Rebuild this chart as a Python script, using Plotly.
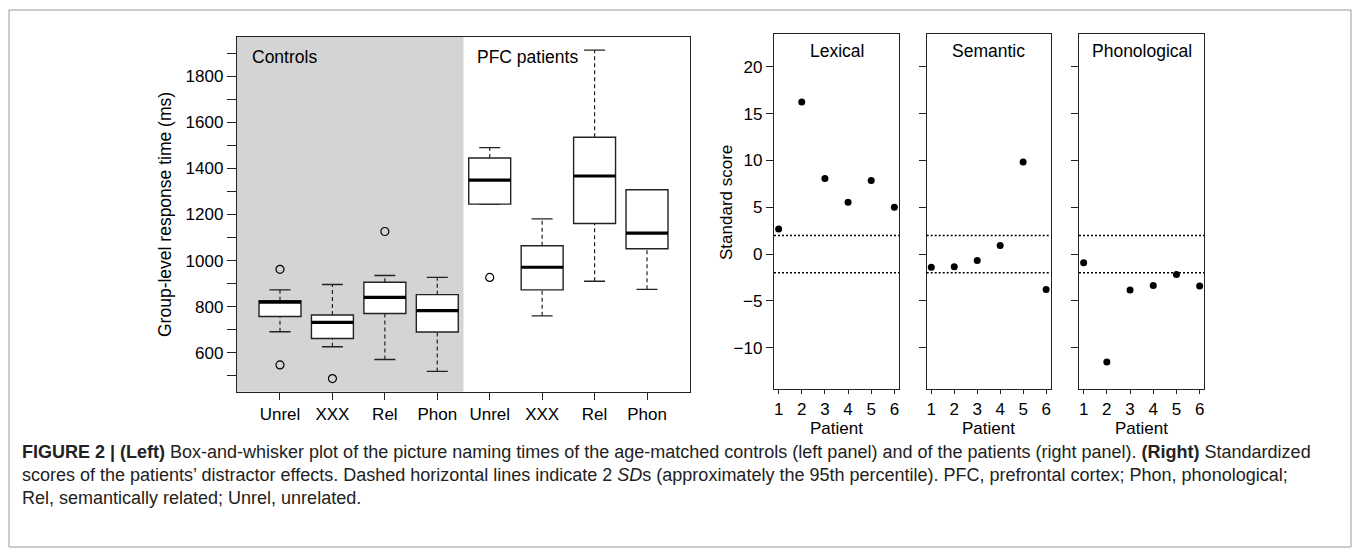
import plotly.graph_objects as go

# ---------------- data ----------------
groups = ["Unrel", "XXX", "Rel", "Phon", "Unrel", "XXX", "Rel", "Phon"]
lower_whisker = [691, 626, 571, 519, 1245, 760, 910, 875]
q1_vals = [757, 662, 770, 690, 1245, 873, 1161, 1051]
medians = [820, 732, 840, 783, 1349, 971, 1367, 1119]
q3_vals = [826, 764, 906, 852, 1445, 1064, 1535, 1307]
upper_whisker = [873, 896, 935, 927, 1490, 1181, 1913, 1307]
outlier_pos = [1, 1, 2, 3, 5]
outlier_vals = [962, 547, 488, 1126, 927]

patients = [1, 2, 3, 4, 5, 6]
lexical = [2.67, 16.24, 8.06, 5.54, 7.85, 5.01]
semantic = [-1.39, -1.35, -0.68, 0.92, 9.84, -3.77]
phonological = [-0.93, -11.51, -3.84, -3.35, -2.17, -3.41]
panel_titles = ["Lexical", "Semantic", "Phonological"]

y_ticks_left = list(range(500, 2000, 100))
y_ticktext_left = [str(v) if v % 200 == 0 else "" for v in y_ticks_left]
y_ticks_right = [-10, -5, 0, 5, 10, 15, 20]
y_ticktext_right = ["\u221210", "\u22125", "0", "5", "10", "15", "20"]

# ---------------- layout helpers ----------------
W, H = 1356, 552
FONT = "Liberation Sans, Arial, Helvetica, sans-serif"
LINE = "#222222"


def xd(a, b):
    return [a / W, b / W]


def yd(top, bottom):
    return [1 - bottom / H, 1 - top / H]


fig = go.Figure()

# outliers (left)
fig.add_trace(go.Scatter(
    x=outlier_pos, y=outlier_vals, mode="markers",
    marker=dict(symbol="circle-open", size=8, color="black", line=dict(width=1.2)),
    xaxis="x", yaxis="y", showlegend=False, hoverinfo="skip"))

shapes = []
# shaded controls region
shapes.append(dict(type="rect", xref="x", yref="y domain", x0=0.18, x1=4.5, y0=0, y1=1,
                   fillcolor="#d4d4d4", line=dict(width=0), layer="below"))
bw = 0.4
cw = 0.2
for i in range(len(groups)):
    p = i + 1
    shapes.append(dict(type="line", xref="x", yref="y", x0=p, x1=p, y0=q3_vals[i], y1=upper_whisker[i],
                       line=dict(color=LINE, width=1.2, dash="4px,3px")))
    shapes.append(dict(type="line", xref="x", yref="y", x0=p, x1=p, y0=lower_whisker[i], y1=q1_vals[i],
                       line=dict(color=LINE, width=1.2, dash="4px,3px")))
    shapes.append(dict(type="line", xref="x", yref="y", x0=p - cw, x1=p + cw, y0=upper_whisker[i], y1=upper_whisker[i],
                       line=dict(color=LINE, width=1.4)))
    shapes.append(dict(type="line", xref="x", yref="y", x0=p - cw, x1=p + cw, y0=lower_whisker[i], y1=lower_whisker[i],
                       line=dict(color=LINE, width=1.4)))
    shapes.append(dict(type="rect", xref="x", yref="y", x0=p - bw, x1=p + bw, y0=q1_vals[i], y1=q3_vals[i],
                       fillcolor="white", line=dict(color=LINE, width=1.4)))
    shapes.append(dict(type="line", xref="x", yref="y", x0=p - bw, x1=p + bw, y0=medians[i], y1=medians[i],
                       line=dict(color="black", width=3.2)))

# right panels
series = [lexical, semantic, phonological]
panel_x = [(774, 899), (926.7, 1050.7), (1079, 1204.3)]
for k in range(3):
    xa = "x%d" % (k + 2)
    ya = "y%d" % (k + 2)
    fig.add_trace(go.Scatter(
        x=patients, y=series[k], mode="markers",
        marker=dict(symbol="circle", size=7, color="black"),
        xaxis=xa, yaxis=ya, showlegend=False, hoverinfo="skip"))
    for lev in (2, -2):
        shapes.append(dict(type="line", xref=xa + " domain", yref=ya, x0=0, x1=1, y0=lev, y1=lev,
                           line=dict(color="black", width=1.5, dash="2px,2px")))

# outer figure border
shapes.append(dict(type="rect", xref="paper", yref="paper", x0=9 / W, x1=1351 / W,
                   y0=1 - 547 / H, y1=1 - 10 / H, line=dict(color="#9a9a9a", width=1), layer="below"))

axis_common = dict(showline=True, mirror=True, linecolor=LINE, linewidth=1.3, ticks="outside",
                   tickcolor=LINE, tickwidth=1.2, showgrid=False, zeroline=False,
                   tickfont=dict(family=FONT, size=17, color="black"))

layout = dict(
    width=W, height=H, margin=dict(l=0, r=0, t=0, b=0),
    paper_bgcolor="white", plot_bgcolor="white",
    font=dict(family=FONT, color="black"),
    shapes=shapes,
    xaxis=dict(axis_common, domain=xd(237, 690), range=[0.18, 8.82], tickvals=list(range(1, 9)),
               ticktext=groups, ticklen=7, anchor="y"),
    yaxis=dict(axis_common, domain=yd(37, 391.7), range=[431, 1970], tickvals=y_ticks_left,
               ticktext=y_ticktext_left, ticklen=9, anchor="x"),
)

RB = 389
for k in range(3):
    a, b = panel_x[k]
    layout["xaxis%d" % (k + 2)] = dict(axis_common, domain=xd(a, b), range=[0.8, 6.2],
                                       tickvals=patients, ticklen=4, anchor="y%d" % (k + 2))
    layout["yaxis%d" % (k + 2)] = dict(axis_common, domain=yd(34, RB), range=[-14.4, 23.5],
                                       tickvals=y_ticks_right,
                                       ticktext=y_ticktext_right if k == 0 else [""] * 7,
                                       ticklen=7, anchor="x%d" % (k + 2))

fig.update_layout(**layout)

ann = []


def px_ann(text, x, y, size=17, xanchor="center", yanchor="middle", angle=0, color="black"):
    ann.append(dict(text=text, x=x / W, y=1 - y / H, xref="paper", yref="paper", showarrow=False,
                    xanchor=xanchor, yanchor=yanchor, textangle=angle,
                    font=dict(family=FONT, size=size, color=color)))


px_ann("Controls", 250, 57, size=17.5, xanchor="left")
px_ann("PFC patients", 475, 57, size=17.5, xanchor="left")
px_ann("Group-level response time (ms)", 165, 215, size=17.5, angle=-90)
px_ann("Standard score", 727, 203, size=17, angle=-90)
for k in range(3):
    a, b = panel_x[k]
    px_ann(panel_titles[k], (a + b) / 2, 51, size=17.5)
    px_ann("Patient", (a + b) / 2, 428, size=17)

cap_lines = [
    "<b>FIGURE 2 | (Left)</b> Box-and-whisker plot of the picture naming times of the age-matched controls (left panel) and of the patients (right panel). <b>(Right)</b> Standardized",
    "scores of the patients\u2019 distractor effects. Dashed horizontal lines indicate 2 <i>SD</i>s (approximately the 95th percentile). PFC, prefrontal cortex; Phon, phonological;",
    "Rel, semantically related; Unrel, unrelated.",
]
for j, t in enumerate(cap_lines):
    px_ann(t, 20, 452 + 23 * j, size=18, xanchor="left", color="#222222")

fig.update_layout(annotations=ann)
fig.write_html("out.html", config={"displayModeBar": False},
               post_script="document.body.style.margin='0';document.body.style.overflow='hidden';")
